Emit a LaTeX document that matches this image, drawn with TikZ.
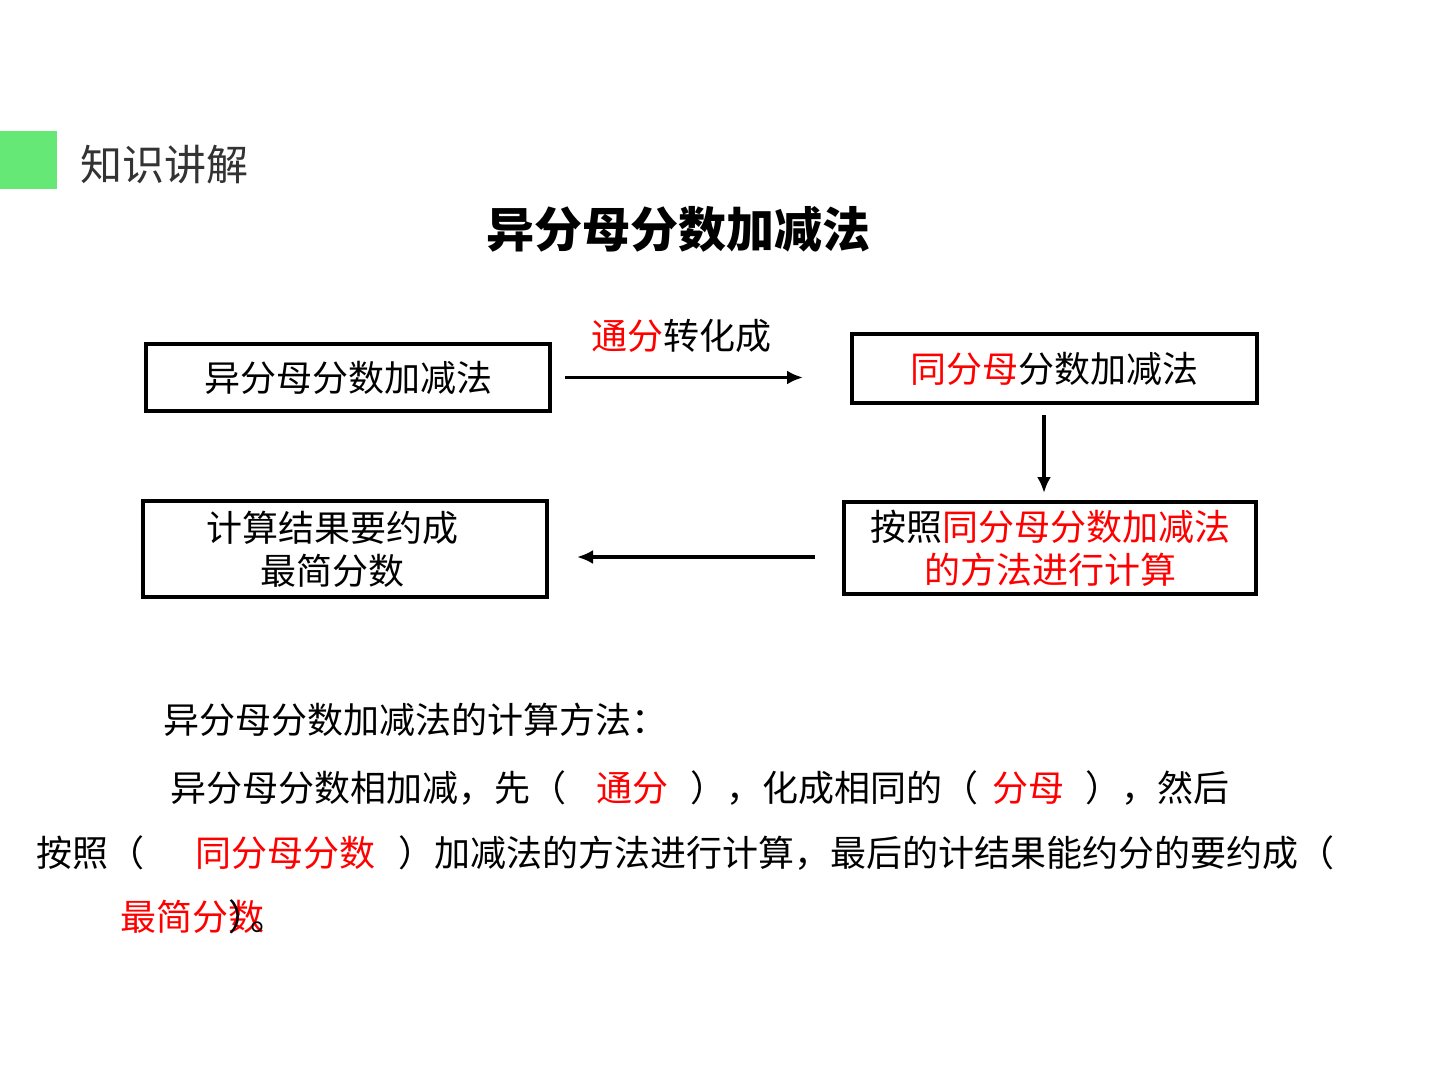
\documentclass[tikz,border=0pt]{standalone}
\usepackage{fontspec}
\setmainfont{Noto Sans CJK SC}
\usetikzlibrary{arrows.meta}
\definecolor{tabgreen}{RGB}{102,232,118}
\definecolor{headgray}{RGB}{51,51,51}

\begin{document}
\begin{tikzpicture}[x=0.5pt,y=-0.5pt,
    box/.style={draw,line width=2pt,align=center,inner sep=0pt,
        font=\fontsize{18pt}{21.5pt}\selectfont},
    arr/.style={line width=1.75pt,-{Latex[length=8pt,width=7pt]}},
    txt/.style={anchor=west,inner sep=0pt,font=\fontsize{18pt}{21.5pt}\selectfont}]
    \useasboundingbox (0,0) rectangle (1440,1080);

    \fill[tabgreen] (0,131) rectangle (57,189);
    \node[anchor=west,inner sep=0pt,text=headgray,font=\fontsize{21pt}{24pt}\selectfont] (head) at (80,165) {知识讲解};
    \node[font=\fontsize{24pt}{28pt}\selectfont\bfseries] (title) at (678,229) {异分母分数加减法};

    \node[box,minimum width=202pt,minimum height=33.5pt] (b1) at (348,377.5) {异分母分数加减法};
    \node[box,minimum width=202.5pt,minimum height=34.5pt] (b2) at (1054.5,368.5) {\textcolor{red}{同分母}分数加减法};
    \node[box,minimum width=206pt,minimum height=46pt] (b3) at (1050,548) {按照\textcolor{red}{同分母分数加减法}\\\textcolor{red}{的方法进行计算}};
    \node[box,minimum width=202pt,minimum height=48pt] (b4) at (345,549) {计算结果要约成\hspace*{13pt}\\最简分数\hspace*{13pt}};

    \draw[arr,shorten <=6.5pt,shorten >=23.5pt] (b1.east) -- (b1.east -| b2.west);
    \node[font=\fontsize{18pt}{21.5pt}\selectfont] (conv) at (681,336) {\textcolor{red}{通分}转化成};
    \draw[arr,shorten <=5pt,shorten >=3.5pt] ([xshift=-5.25pt]b2.south) -- ([xshift=-5.25pt]b2.south |- b3.north);
    \draw[arr,shorten <=13.5pt,shorten >=14pt] ([yshift=-4.5pt]b3.west) -- ([yshift=-4.5pt]b3.west -| b4.east);

    \node[txt] (m0) at (163,720) {异分母分数加减法的计算方法：};

    \node[txt] (m1) at (170,788) {异分母分数相加减，先（};
    \node[txt,text=red] (m1a) at (596,788) {通分};
    \node[txt] (m1b) at (690,788) {），化成相同的（};
    \node[txt,text=red] (m1c) at (992,788) {分母};
    \node[txt] (m1d) at (1085,788) {），然后};

    \node[txt] (m2) at (36,853) {按照（};
    \node[txt,text=red] (m2a) at (195,853) {同分母分数};
    \node[txt] (m2b) at (398,853) {）加减法的方法进行计算，最后的计结果能约分的要约成（};

    \node[txt,text=red] (m3) at (120,917) {最简分数};
    \node[txt] (m3a) at (228,917) {）\kern-7pt。};
\end{tikzpicture}
\end{document}
